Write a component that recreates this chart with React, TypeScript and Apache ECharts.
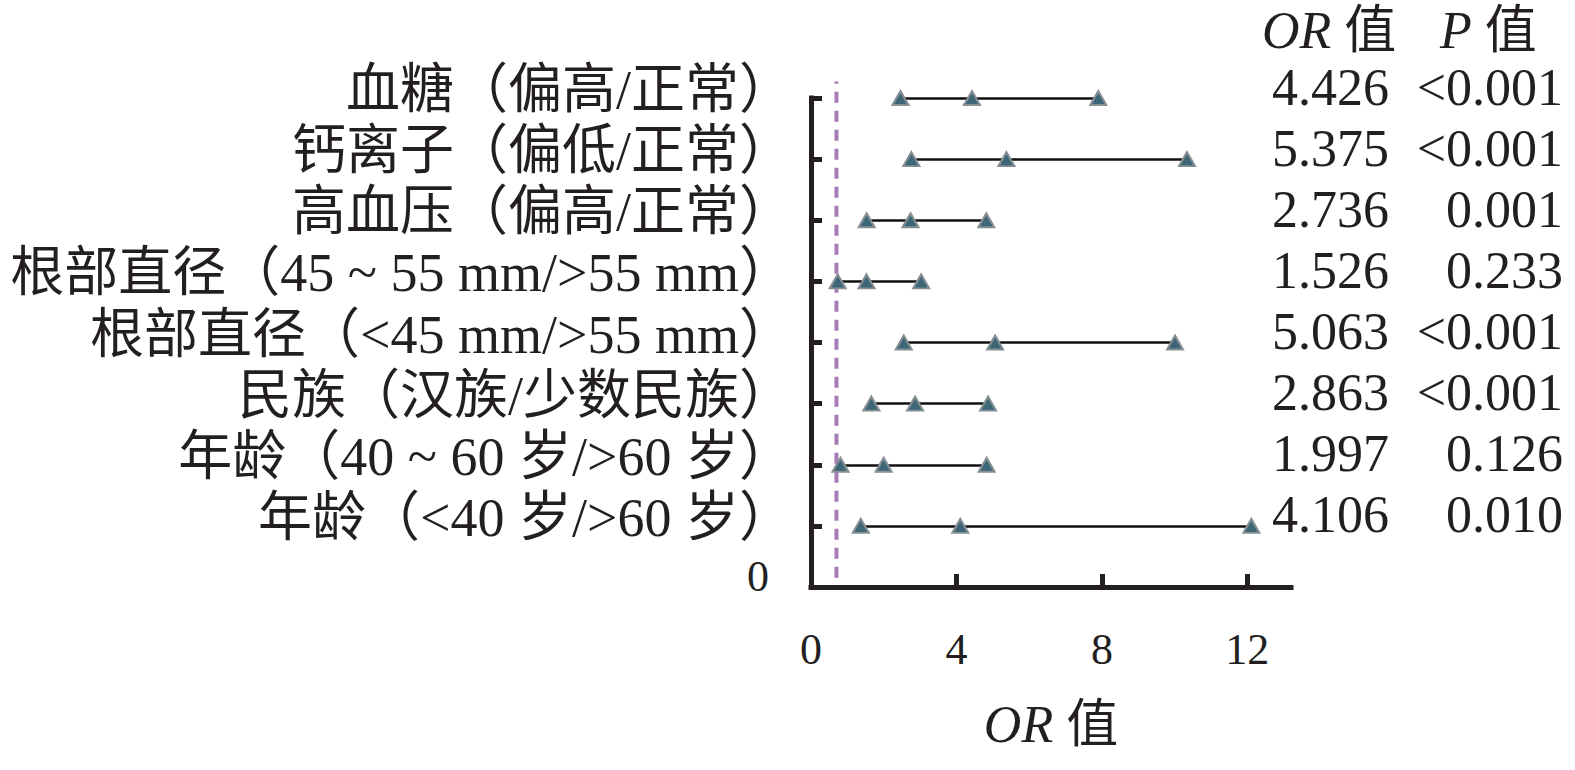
import React, { useEffect, useRef } from 'react';
import * as echarts from 'echarts';

const categories = [
  '血糖（偏高/正常）',
  '钙离子（偏低/正常）',
  '高血压（偏高/正常）',
  '根部直径（45 ~ 55 mm/>55 mm）',
  '根部直径（<45 mm/>55 mm）',
  '民族（汉族/少数民族）',
  '年龄（40 ~ 60 岁/>60 岁）',
  '年龄（<40 岁/>60 岁）',
];
const orValues = [4.426, 5.375, 2.736, 1.526, 5.063, 2.863, 1.997, 4.106];
const lowerCI = [2.46, 2.76, 1.53, 0.735, 2.55, 1.66, 0.81, 1.37];
const upperCI = [7.9, 10.34, 4.82, 3.03, 10.01, 4.87, 4.83, 12.11];
const pValues = ['<0.001', '<0.001', '0.001', '0.233', '<0.001', '<0.001', '0.126', '0.010'];
const xTicks = [0, 4, 8, 12];
const xMax = 13.2;
const refLineX = 0.7;
const refLineY = [0.15, 8.27];

export default function App() {
  const ref = useRef<HTMLDivElement>(null);
  useEffect(() => {
    document.body.style.margin = '0';
    const chart = echarts.init(ref.current as HTMLDivElement, null, { renderer: 'svg' });
    const font = '"Liberation Serif", "Noto Sans CJK SC", serif';
    const ink = '#231f20';
    const n = categories.length;
    const whiskers = categories.map((_, i) => ({
      coords: [
        [lowerCI[i], n - i],
        [upperCI[i], n - i],
      ],
    }));
    const points: number[][] = [];
    categories.forEach((_, i) => {
      points.push([lowerCI[i], n - i], [orValues[i], n - i], [upperCI[i], n - i]);
    });
    const valStyle = { fontFamily: font, fontSize: 52, color: ink, padding: [0, 0, 22, 0] };
    const rightAxisBase = {
      type: 'value',
      min: 0,
      max: n,
      interval: 1,
      position: 'right',
      axisLine: { show: false },
      axisTick: { show: false },
      splitLine: { show: false },
    };
    const option = {
      animation: false,
      grid: { left: 811, right: 284, top: 98, bottom: 183 },
      xAxis: {
        type: 'value',
        min: 0,
        max: xMax,
        splitLine: { show: false },
        axisLine: { lineStyle: { color: ink, width: 5, cap: 'square' } },
        axisTick: { inside: true, length: 13, customValues: xTicks, lineStyle: { width: 5, color: ink } },
        axisLabel: { customValues: xTicks, fontFamily: font, fontSize: 44, color: ink, margin: 40 },
        name: '{i|OR} 值',
        nameLocation: 'middle',
        nameGap: 111,
        nameTextStyle: {
          fontFamily: font,
          fontSize: 52,
          color: ink,
          rich: { i: { fontStyle: 'italic', fontFamily: font, fontSize: 52, color: ink } },
        },
      },
      yAxis: [
        {
          type: 'value',
          min: 0,
          max: n,
          interval: 1,
          position: 'left',
          splitLine: { show: false },
          axisLine: { lineStyle: { color: ink, width: 5, cap: 'square' } },
          axisTick: { inside: true, length: 11, lineStyle: { width: 5, color: ink } },
          axisLabel: {
            formatter: (v: number) => (v === 0 ? '{z|0}' : categories[n - v]),
            fontFamily: font,
            fontSize: 54,
            color: ink,
            margin: 18,
            padding: [0, 0, 16, 0],
            rich: { z: { fontFamily: font, fontSize: 44, color: ink, padding: [0, 24, 6, 0] } },
          },
        },
        {
          ...rightAxisBase,
          axisLabel: {
            formatter: (v: number) => (v === 0 ? '' : '{v|' + orValues[n - v].toFixed(3) + '}'),
            fontFamily: font,
            fontSize: 52,
            color: ink,
            align: 'right',
            margin: 98,
            rich: { v: valStyle },
          },
        },
        {
          ...rightAxisBase,
          axisLabel: {
            formatter: (v: number) => (v === 0 ? '' : '{v|' + pValues[n - v] + '}'),
            fontFamily: font,
            fontSize: 52,
            color: ink,
            align: 'right',
            margin: 272,
            rich: { v: valStyle },
          },
        },
      ],
      series: [
        {
          type: 'line',
          data: refLineY.map((y) => [refLineX, y]),
          symbol: 'none',
          clip: false,
          lineStyle: { color: '#a67bb6', width: 4, type: [11, 8] },
          z: 1,
        },
        {
          type: 'lines',
          coordinateSystem: 'cartesian2d',
          data: whiskers,
          lineStyle: { color: '#111', width: 2.5, opacity: 1 },
          z: 2,
        },
        {
          type: 'scatter',
          data: points,
          symbol: 'triangle',
          symbolSize: [16, 14],
          itemStyle: { color: '#3d6676', borderColor: '#858f94', borderWidth: 2, opacity: 1 },
          z: 3,
        },
      ],
      graphic: [
        {
          type: 'text',
          x: 1262,
          y: 30,
          style: {
            text: '{i|OR} 值',
            fontFamily: font,
            fontSize: 52,
            fill: ink,
            verticalAlign: 'middle',
            align: 'left',
            rich: { i: { fontStyle: 'italic', fontFamily: font, fontSize: 52, fill: ink } },
          },
        },
        {
          type: 'text',
          x: 1440,
          y: 30,
          style: {
            text: '{i|P} 值',
            fontFamily: font,
            fontSize: 52,
            fill: ink,
            verticalAlign: 'middle',
            align: 'left',
            rich: { i: { fontStyle: 'italic', fontFamily: font, fontSize: 52, fill: ink } },
          },
        },
      ],
    };
    chart.setOption(option as any);
    return () => chart.dispose();
  }, []);
  return <div ref={ref} style={{ width: 1575, height: 770 }} />;
}
